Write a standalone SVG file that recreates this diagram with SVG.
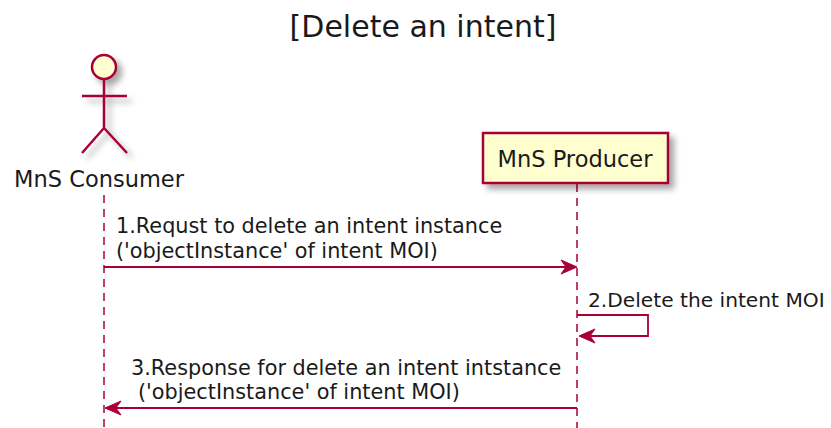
<svg xmlns="http://www.w3.org/2000/svg" width="831" height="428" viewBox="0 0 831 428">
<style>
text{font-family:"DejaVu Sans","Liberation Sans",sans-serif;fill:#1a1a1a}
.title{font-size:30px}
.part{font-size:22.5px}
.msg{font-size:20.8px}
.life{stroke:#A80036;stroke-width:1.5;stroke-dasharray:8,6;fill:none}
.line{stroke:#A80036;stroke-width:1.8;fill:none}
.head{fill:#A80036;stroke:#A80036;stroke-width:1}
.shape{fill:#FEFECE;stroke:#A80036;stroke-width:2.5}
</style>
<defs>
<filter id="sh" x="-20%" y="-20%" width="150%" height="150%">
<feGaussianBlur in="SourceAlpha" stdDeviation="3"/>
<feOffset dx="5" dy="5" result="b"/>
<feComponentTransfer><feFuncA type="linear" slope="0.35"/></feComponentTransfer>
<feMerge><feMergeNode/><feMergeNode in="SourceGraphic"/></feMerge>
</filter>
</defs>
<text class="title" x="423" y="37" text-anchor="middle">[Delete an intent]</text>
<g id="lifelines">
<line class="life" x1="104" y1="195" x2="104" y2="428"/>
<line class="life" x1="577" y1="184" x2="577" y2="428"/>
</g>
<g id="consumer">
<g filter="url(#sh)">
<circle class="shape" cx="104" cy="67" r="12"/>
<path class="line" style="stroke-width:2.5" d="M104 79 V128 M82 96 H127 M82 153 L104 128 L127 153"/>
</g>
<text class="part" x="99" y="187" text-anchor="middle">MnS Consumer</text>
</g>
<g id="producer">
<rect class="shape" x="483" y="133" width="185" height="50" filter="url(#sh)"/>
<text class="part" x="575" y="167" text-anchor="middle">MnS Producer</text>
</g>
<g id="connectors">
<line class="line" x1="104" y1="267" x2="575" y2="267"/>
<polygon class="head" points="577,267 561,260 566,267 561,274"/>
<path class="line" d="M577 315 H648 V336 H582"/>
<polygon class="head" points="579,336 595,329 590,336 595,343"/>
<line class="line" x1="106" y1="408" x2="577" y2="408"/>
<polygon class="head" points="105,408 121,401 116,408 121,415"/>
</g>
<g id="labels">
<text class="msg" x="116" y="233">1.Requst to delete an intent instance</text>
<text class="msg" x="116" y="258">('objectInstance' of intent MOI)</text>
<text class="msg" x="588" y="307" style="font-size:20.2px">2.Delete the intent MOI</text>
<text class="msg" x="131" y="375">3.Response for delete an intent intstance</text>
<text class="msg" x="138" y="399">('objectInstance' of intent MOI)</text>
</g>
</svg>
